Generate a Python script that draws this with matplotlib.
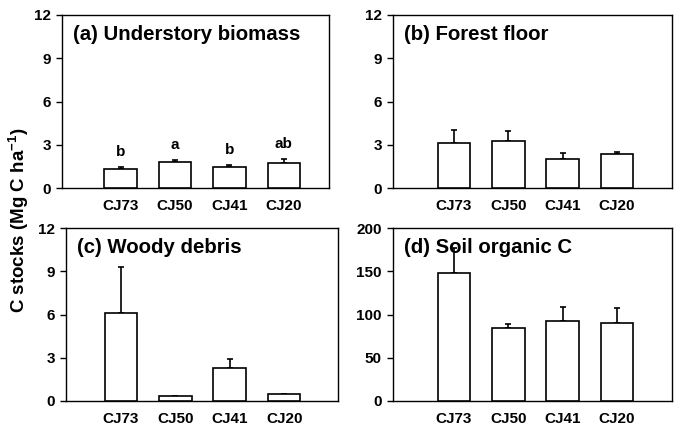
import matplotlib
matplotlib.use('Agg')
from matplotlib import pyplot as plt

plt.rcParams['font.family'] = ['Liberation Sans', 'DejaVu Sans']
plt.rcParams['font.weight'] = 'bold'
plt.rcParams['mathtext.fontset'] = 'custom'
plt.rcParams['mathtext.bf'] = 'Liberation Sans:bold'
plt.rcParams['mathtext.rm'] = 'Liberation Sans:bold'

sites = ['CJ73', 'CJ50', 'CJ41', 'CJ20']

# (a) understory biomass
under_mean = [1.33, 1.82, 1.43, 1.76]
under_err = [0.12, 0.12, 0.20, 0.27]
under_letters = ['b', 'a', 'b', 'ab']
# (b) forest floor
floor_mean = [3.12, 3.23, 2.02, 2.33]
floor_err = [0.92, 0.72, 0.40, 0.18]
# (c) woody debris
woody_mean = [6.1, 0.38, 2.32, 0.52]
woody_err = [3.2, 0.0, 0.56, 0.0]
# (d) soil organic C
soil_mean = [148, 84, 93, 90]
soil_err = [29, 5.5, 16, 17.5]

fig = plt.figure(figsize=(6.85, 4.41), dpi=100)
W, H = 685.0, 441.0

def make_axes(left, right, top, bottom):
    return fig.add_axes([left / W, 1 - bottom / H, (right - left) / W, (bottom - top) / H])

panels = [
    (make_axes(62, 329, 15, 188), under_mean, under_err, '(a) Understory biomass', 12, 3, (-1.08, 3.83)),
    (make_axes(393, 672, 15, 188), floor_mean, floor_err, '(b) Forest floor', 12, 3, (-1.12, 4.01)),
    (make_axes(66, 338, 228, 401), woody_mean, woody_err, '(c) Woody debris', 12, 3, (-1.01, 3.99)),
    (make_axes(393, 672, 228, 401), soil_mean, soil_err, '(d) Soil organic C', 200, 50, (-1.12, 4.01)),
]

x = list(range(len(sites)))
for ax, mean, err, title, ymax, step, xl in panels:
    ax.bar(x, mean, width=0.6, color='white', edgecolor='black', linewidth=1.2, zorder=3)
    ax.errorbar(x, mean, yerr=[[0] * len(err), err], fmt='none', ecolor='black',
                elinewidth=1.2, capsize=2.3, capthick=1.2, zorder=2)
    ax.set_ylim(0, ymax)
    ax.set_xlim(*xl)
    ax.set_yticks(range(0, ymax + 1, step))
    ax.set_xticks(x)
    ax.set_xticklabels(sites)
    ax.tick_params(axis='x', length=0, pad=8, labelsize=11)
    ax.tick_params(axis='y', direction='out', length=4, width=1, labelsize=11, pad=4)
    for lab in ax.get_xticklabels() + ax.get_yticklabels():
        lab.set_fontweight('bold')
    for s in ax.spines.values():
        s.set_linewidth(1.0)
    ax.text(0.04, 0.885, title, transform=ax.transAxes, fontsize=14.7,
            fontweight='bold', va='center', ha='left')

ax_a = panels[0][0]
for xi, m, e, lt in zip(x, under_mean, under_err, under_letters):
    ax_a.text(xi, m + e + 0.55, lt, ha='center', va='bottom', fontsize=11, fontweight='bold')

fig.text(0.027, 0.5, 'C stocks (Mg C ha$^{-1}$)', rotation=90,
         ha='center', va='center', fontsize=13.5, fontweight='bold')

fig.savefig('out.png', dpi=100)
